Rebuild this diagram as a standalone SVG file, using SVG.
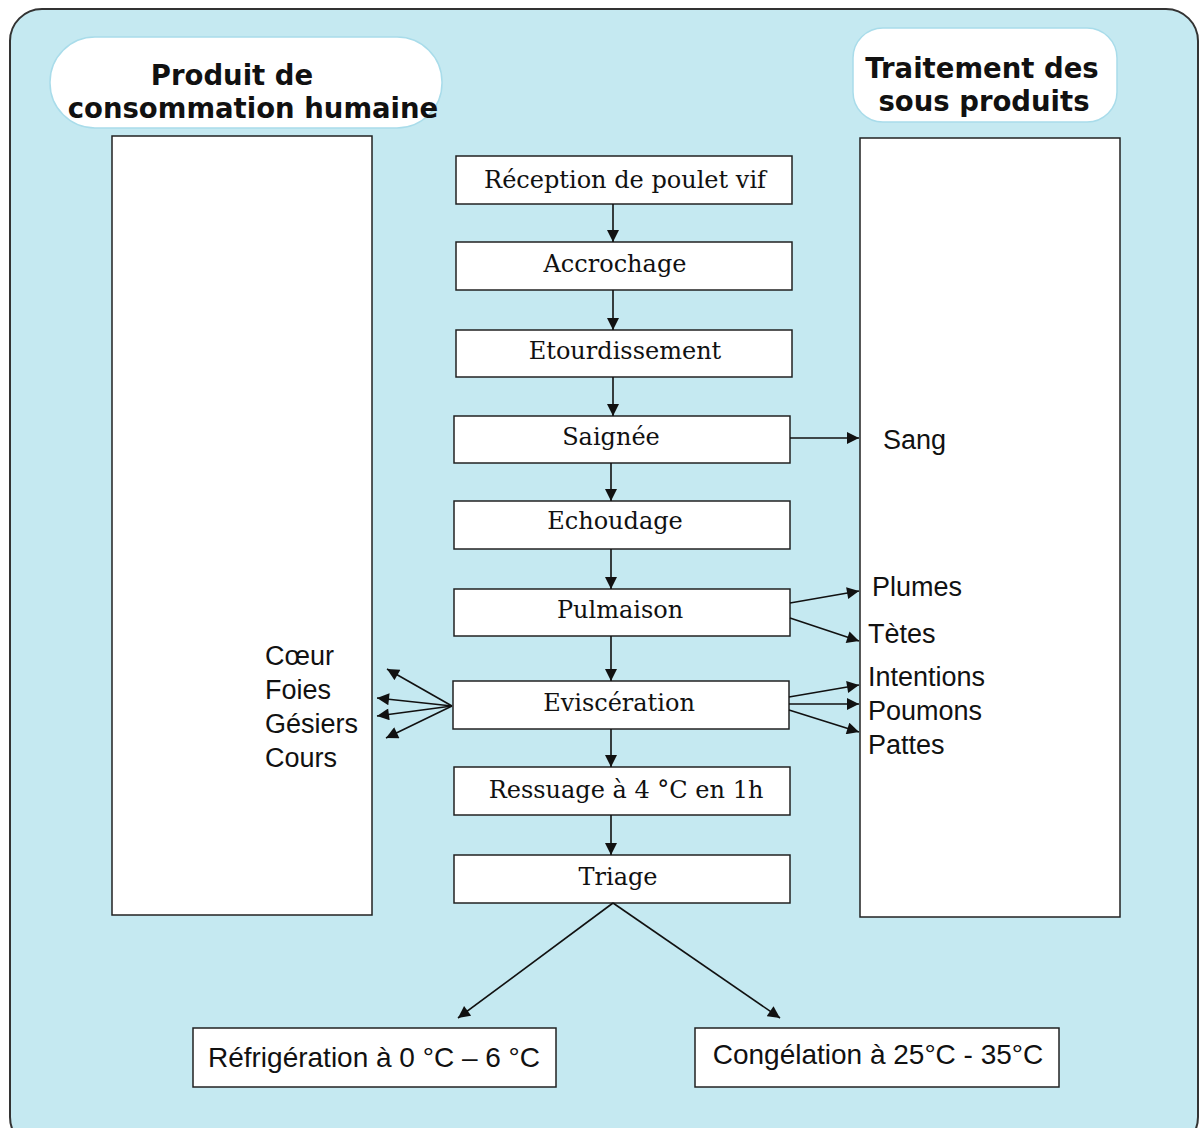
<svg xmlns="http://www.w3.org/2000/svg" width="1202" height="1128" viewBox="0 0 1202 1128">
<defs>
<marker id="ah2" viewBox="0 0 10 10" refX="10" refY="5" markerWidth="13" markerHeight="12" orient="auto" markerUnits="userSpaceOnUse">
<path d="M0,0 L10,5 L0,10 z" fill="#111"/>
</marker>
</defs>
<style>
.box{fill:#fff;stroke:#222;stroke-width:1.5}
.col{fill:#fff;stroke:#222;stroke-width:1.5}
.hdr{fill:#fff;stroke:#a9dcea;stroke-width:1.5}
.st{font-family:"DejaVu Serif","Liberation Serif",serif;font-size:24px;fill:#111;text-anchor:middle}
.sn{font-family:"Liberation Sans","DejaVu Sans",sans-serif;font-size:27px;fill:#111}
.ht{font-family:"DejaVu Sans","Liberation Sans",sans-serif;font-weight:bold;font-size:27.5px;fill:#111;text-anchor:middle}
.bt{font-family:"Liberation Sans","DejaVu Sans",sans-serif;font-size:28px;fill:#111;text-anchor:middle}
.c line{stroke:#111;stroke-width:1.6;marker-end:url(#ah2)}
</style>
<rect x="10" y="9" width="1188" height="1140" rx="32" fill="#c5e9f1" stroke="#333" stroke-width="2"/>
<g id="hdr-left"><rect class="hdr" x="50" y="37" width="392" height="91" rx="45"/><text class="ht" x="232" y="85">Produit de</text><text class="ht" x="253" y="118">consommation humaine</text></g>
<g id="hdr-right"><rect class="hdr" x="853" y="28" width="264" height="94" rx="30"/><text class="ht" x="982" y="78">Traitement des</text><text class="ht" x="984" y="111">sous produits</text></g>
<g id="col-left"><rect class="col" x="112" y="136" width="260" height="779"/>
<text class="sn" x="265" y="665">Cœur</text><text class="sn" x="265" y="699">Foies</text><text class="sn" x="265" y="733">Gésiers</text><text class="sn" x="265" y="767">Cours</text></g>
<g id="col-right"><rect class="col" x="860" y="138" width="260" height="779"/>
<text class="sn" x="883" y="449">Sang</text><text class="sn" x="872" y="596">Plumes</text><text class="sn" x="868" y="643">Tètes</text><text class="sn" x="868" y="686">Intentions</text><text class="sn" x="868" y="720">Poumons</text><text class="sn" x="868" y="754">Pattes</text></g>
<g id="n1"><rect class="box" x="456" y="156" width="336" height="48"/><text class="st" x="625" y="188">Réception de poulet vif</text></g>
<g id="n2"><rect class="box" x="456" y="242" width="336" height="48"/><text class="st" x="615" y="272">Accrochage</text></g>
<g id="n3"><rect class="box" x="456" y="330" width="336" height="47"/><text class="st" x="625" y="359">Etourdissement</text></g>
<g id="n4"><rect class="box" x="454" y="416" width="336" height="47"/><text class="st" x="611" y="445">Saignée</text></g>
<g id="n5"><rect class="box" x="454" y="501" width="336" height="48"/><text class="st" x="615" y="529">Echoudage</text></g>
<g id="n6"><rect class="box" x="454" y="589" width="336" height="47"/><text class="st" x="620" y="618">Pulmaison</text></g>
<g id="n7"><rect class="box" x="453" y="681" width="336" height="48"/><text class="st" x="619" y="711">Eviscération</text></g>
<g id="n8"><rect class="box" x="454" y="767" width="336" height="48"/><text class="st" x="626" y="798">Ressuage à 4 °C en 1h</text></g>
<g id="n9"><rect class="box" x="454" y="855" width="336" height="48"/><text class="st" x="618" y="885">Triage</text></g>
<g id="n10"><rect class="box" x="193" y="1028" width="363" height="59"/><text class="bt" x="374" y="1067">Réfrigération à 0 °C – 6 °C</text></g>
<g id="n11"><rect class="box" x="695" y="1028" width="364" height="59"/><text class="bt" x="878" y="1064">Congélation à 25°C - 35°C</text></g>
<g id="connectors" class="c">
<line x1="613" y1="204" x2="613" y2="242"/>
<line x1="613" y1="290" x2="613" y2="330"/>
<line x1="613" y1="377" x2="613" y2="416"/>
<line x1="611" y1="463" x2="611" y2="501"/>
<line x1="611" y1="549" x2="611" y2="589"/>
<line x1="611" y1="636" x2="611" y2="681"/>
<line x1="611" y1="729" x2="611" y2="767"/>
<line x1="611" y1="815" x2="611" y2="855"/>
<line x1="790" y1="438" x2="859" y2="438"/>
<line x1="790" y1="603" x2="859" y2="591"/>
<line x1="790" y1="618" x2="859" y2="641"/>
<line x1="789" y1="697" x2="859" y2="685"/>
<line x1="789" y1="704" x2="859" y2="704"/>
<line x1="789" y1="710" x2="859" y2="732"/>
<line x1="452" y1="706" x2="387" y2="669"/>
<line x1="452" y1="706" x2="377" y2="698"/>
<line x1="452" y1="706" x2="377" y2="716"/>
<line x1="452" y1="706" x2="386" y2="738"/>
<line x1="613" y1="903" x2="458" y2="1018"/>
<line x1="613" y1="903" x2="780" y2="1018"/>
</g>
</svg>
